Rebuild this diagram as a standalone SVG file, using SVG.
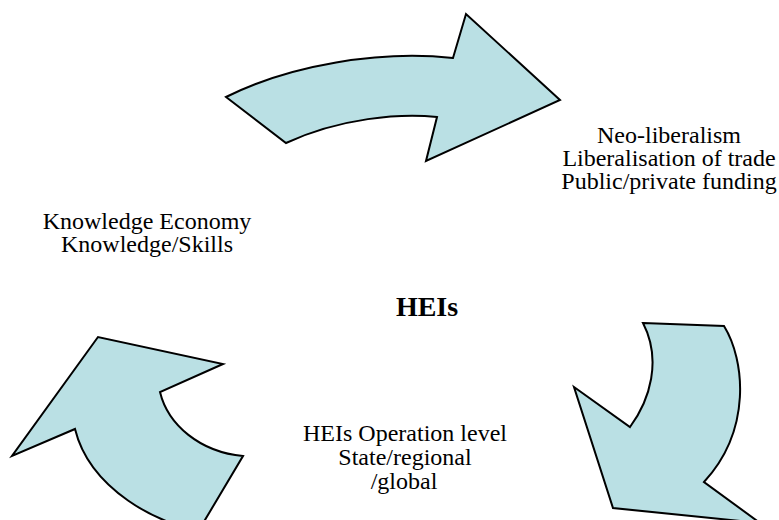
<svg xmlns="http://www.w3.org/2000/svg" width="779" height="520" viewBox="0 0 779 520">
  <style>
    .arrow { fill: #BAE0E4; stroke: #000; stroke-width: 2; stroke-linejoin: miter; }
    .lbl { font-family: "Liberation Serif", "Times New Roman", serif; font-size: 24px; fill: #000; text-anchor: middle; }
    .title { font-family: "Liberation Serif", "Times New Roman", serif; font-size: 28px; font-weight: bold; fill: #000; text-anchor: middle; }
  </style>
  <rect width="779" height="520" fill="#fff"/>
  <g id="connectors">
    <path id="arrow-top" class="arrow" d="M226,97 C290,65 380,50 453,58 L466,14 L560,100 L426,161 L437,117 C400,113 340,118 286,143 Z"/>
    <path id="arrow-right" class="arrow" d="M643,323 L724,326 C745,360 752,430 704,482 L760,523 L613,508 L574,387 L630,427 C650,400 662,360 643,323 Z"/>
    <path id="arrow-left" class="arrow" d="M160,392 C168,425 200,452 243,456 L199,530 C160,525 90,490 75,429 L12,456 L98,337 L223,364 Z"/>
  </g>
  <g id="node-neoliberalism">
    <text class="lbl" x="669" y="143">Neo-liberalism</text>
    <text class="lbl" x="669" y="166">Liberalisation of trade</text>
    <text class="lbl" x="669" y="189">Public/private funding</text>
  </g>
  <g id="node-knowledge">
    <text class="lbl" x="147" y="229">Knowledge Economy</text>
    <text class="lbl" x="147" y="252">Knowledge/Skills</text>
  </g>
  <g id="node-heis">
    <text class="title" x="427" y="316">HEIs</text>
  </g>
  <g id="node-operation">
    <text class="lbl" x="405" y="441">HEIs Operation level</text>
    <text class="lbl" x="405" y="465">State/regional</text>
    <text class="lbl" x="404" y="489">/global</text>
  </g>
</svg>
